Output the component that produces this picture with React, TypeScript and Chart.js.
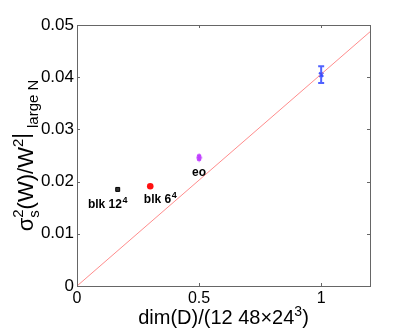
import React, { useEffect, useRef } from "react";
import { Chart, registerables } from "chart.js";

Chart.register(...registerables);

// ---- data ----
const xTicks = [0, 0.5, 1];
const xTickLabels = ["0", "0.5", "1"];
const yTicks = [0, 0.01, 0.02, 0.03, 0.04, 0.05];
const yTickLabels = ["0", "0.01", "0.02", "0.03", "0.04", "0.05"];

const pointX = [0.1667, 0.3, 0.5, 1.0];
const pointY = [0.0185, 0.0191, 0.0246, 0.0405];
const pointErr = [0, 0, 0.0004, 0.0016];
const labelBase = ["blk 12", "blk 6", "eo", ""];
const labelSup = ["4", "4", "", ""];

const fitX = [0, 1.2];
const fitY = [0, 0.0487];

// ---- styles ----
const FONT = "'Liberation Sans', Arial, Helvetica, sans-serif";
const colors = ["#1a1a1a", "#ff1010", "#c040ff", "#3a4cff"];
const labelOffsets = [
  { dx: -10, dy: 19 },
  { dx: 10, dy: 17 },
  { dx: 0, dy: 18 },
  { dx: 0, dy: 0 },
];

function makeDiamond(color: string) {
  const c = document.createElement("canvas");
  c.width = 7;
  c.height = 10;
  const g = c.getContext("2d")!;
  g.fillStyle = color;
  g.beginPath();
  g.moveTo(3.5, 0.5);
  g.lineTo(6.5, 5);
  g.lineTo(3.5, 9.5);
  g.lineTo(0.5, 5);
  g.closePath();
  g.fill();
  return c;
}

const decorPlugin = {
  id: "decor",
  afterDatasetsDraw(chart: any) {
    const ctx = chart.ctx;
    const xs = chart.scales.x;
    const ys = chart.scales.y;
    // error bars
    ctx.save();
    pointX.forEach((x, i) => {
      const e = pointErr[i];
      if (!e) return;
      const px = xs.getPixelForValue(x);
      const top = ys.getPixelForValue(pointY[i] + e);
      const bot = ys.getPixelForValue(pointY[i] - e);
      const cap = i === 3 ? 3 : 2;
      ctx.strokeStyle = i === 3 ? "rgba(50,70,255,0.85)" : colors[i];
      ctx.lineWidth = 2;
      ctx.beginPath();
      ctx.moveTo(px, top);
      ctx.lineTo(px, bot);
      ctx.moveTo(px - cap, top);
      ctx.lineTo(px + cap, top);
      ctx.moveTo(px - cap, bot);
      ctx.lineTo(px + cap, bot);
      ctx.stroke();
    });
    ctx.restore();

    // point labels
    ctx.save();
    ctx.fillStyle = "#000";
    ctx.textBaseline = "alphabetic";
    labelBase.forEach((t, i) => {
      if (!t) return;
      const px = xs.getPixelForValue(pointX[i]);
      const py = ys.getPixelForValue(pointY[i]);
      ctx.font = `bold 12px ${FONT}`;
      const w1 = ctx.measureText(t).width;
      ctx.font = `bold 9px ${FONT}`;
      const w2 = labelSup[i] ? ctx.measureText(labelSup[i]).width + 0.5 : 0;
      const cx = px + labelOffsets[i].dx;
      const by = py + labelOffsets[i].dy;
      const sx = cx - (w1 + w2) / 2;
      ctx.font = `bold 12px ${FONT}`;
      ctx.fillText(t, sx, by);
      if (labelSup[i]) {
        ctx.font = `bold 9px ${FONT}`;
        ctx.fillText(labelSup[i], sx + w1 + 0.5, by - 5);
      }
    });
    ctx.restore();
  },
  afterDraw(chart: any) {
    const ctx = chart.ctx;
    const a = chart.chartArea;
    const xs = chart.scales.x;
    const ys = chart.scales.y;
    ctx.save();
    // frame
    ctx.strokeStyle = "#666";
    ctx.lineWidth = 1;
    ctx.strokeRect(Math.round(a.left) + 0.5, Math.round(a.top) + 0.5, Math.round(a.right - a.left), Math.round(a.bottom - a.top));
    const L = 3;
    ctx.beginPath();
    yTicks.forEach((v) => {
      const y = Math.round(ys.getPixelForValue(v)) + 0.5;
      ctx.moveTo(a.left, y);
      ctx.lineTo(a.left + L, y);
      ctx.moveTo(a.right, y);
      ctx.lineTo(a.right - L, y);
    });
    xTicks.forEach((v) => {
      const x = Math.round(xs.getPixelForValue(v)) + 0.5;
      ctx.moveTo(x, a.bottom);
      ctx.lineTo(x, a.bottom - L);
      ctx.moveTo(x, a.top);
      ctx.lineTo(x, a.top + L);
    });
    ctx.stroke();

    // x title
    ctx.fillStyle = "#000";
    ctx.textBaseline = "alphabetic";
    const big = `20px ${FONT}`;
    const sm = `14px ${FONT}`;
    ctx.font = big;
    const p1 = "dim(D)/(12 48\u00d724";
    const w1 = ctx.measureText(p1).width;
    const w3 = ctx.measureText(")").width;
    ctx.font = sm;
    const w2 = ctx.measureText("3").width;
    const total = w1 + w2 + w3;
    const cx = (a.left + a.right) / 2;
    let x0 = cx - total / 2;
    const by = 324;
    ctx.font = big;
    ctx.fillText(p1, x0, by);
    ctx.font = sm;
    ctx.fillText("3", x0 + w1, by - 8);
    ctx.font = big;
    ctx.fillText(")", x0 + w1 + w2, by);

    // y title (rotated)
    const yb = 33;
    const ycenter = (a.top + a.bottom) / 2;
    ctx.translate(yb, ycenter);
    ctx.rotate(-Math.PI / 2);
    const mainF = `22px ${FONT}`;
    const subF = `15px ${FONT}`;
    ctx.font = mainF;
    const wSig = ctx.measureText("\u03c3").width;
    const wMid = ctx.measureText("(W)/W").width;
    const wBar = ctx.measureText("|").width;
    ctx.font = subF;
    const w2s = Math.max(ctx.measureText("2").width, ctx.measureText("s").width);
    const wLarge = ctx.measureText("large N").width;
    const gap = 5;
    const tot = wSig + w2s + wMid + w2s + wBar + gap + wLarge;
    let lx = -tot / 2;
    ctx.font = mainF;
    ctx.fillText("\u03c3", lx, 0);
    lx += wSig;
    ctx.font = subF;
    ctx.fillText("2", lx, -10);
    ctx.fillText("s", lx, 6);
    lx += w2s;
    ctx.font = mainF;
    ctx.fillText("(W)/W", lx, 0);
    lx += wMid;
    ctx.font = subF;
    ctx.fillText("2", lx, -10);
    lx += w2s;
    ctx.font = mainF;
    ctx.fillText("|", lx, -5);
    lx += wBar + gap;
    ctx.font = subF;
    ctx.fillText("large N", lx, 5);
    ctx.restore();
  },
};

export default function App() {
  const ref = useRef<HTMLCanvasElement>(null);
  useEffect(() => {
    if (!ref.current) return;
    const chart = new Chart(ref.current, {
      type: "scatter",
      data: {
        datasets: [
          {
            type: "line",
            label: "fit",
            data: fitX.map((x, i) => ({ x, y: fitY[i] })),
            borderColor: "#ff8c8c",
            borderWidth: 1,
            pointRadius: 0,
            fill: false,
          } as any,
          {
            label: "blk 12^4",
            data: [{ x: pointX[0], y: pointY[0] }],
            pointStyle: "rect",
            pointRadius: 2.8,
            backgroundColor: "#333",
            borderColor: "#000",
            borderWidth: 1,
          },
          {
            label: "blk 6^4",
            data: [{ x: pointX[1], y: pointY[1] }],
            pointStyle: "circle",
            pointRadius: 3.3,
            backgroundColor: colors[1],
            borderColor: colors[1],
            borderWidth: 0,
          },
          {
            label: "eo",
            data: [{ x: pointX[2], y: pointY[2] }],
            pointStyle: makeDiamond(colors[2]),
            backgroundColor: colors[2],
            borderColor: colors[2],
          },
          {
            label: "full",
            data: [{ x: pointX[3], y: pointY[3] }],
            pointStyle: "crossRot",
            pointRadius: 3,
            backgroundColor: colors[3],
            borderColor: "rgba(50,70,255,0.9)",
            borderWidth: 2,
          },
        ],
      },
      options: {
        animation: false,
        responsive: false,
        devicePixelRatio: 1,
        layout: { padding: { top: 25, right: 39, left: 0, bottom: 0 } },
        plugins: { legend: { display: false }, tooltip: { enabled: false } },
        scales: {
          x: {
            type: "linear",
            min: 0,
            max: 1.2,
            afterBuildTicks: (s: any) => {
              s.ticks = xTicks.map((v) => ({ value: v }));
            },
            afterFit: (s: any) => {
              s.height = 46;
            },
            grid: { display: false, drawTicks: false },
            border: { display: false },
            ticks: {
              padding: 3,
              color: "#000",
              font: { family: FONT, size: 16 },
              maxRotation: 0,
              callback: (v: any) => {
                const i = xTicks.findIndex((t) => Math.abs(t - v) < 1e-9);
                return i >= 0 ? xTickLabels[i] : "";
              },
            },
          },
          y: {
            type: "linear",
            min: 0,
            max: 0.05,
            afterBuildTicks: (s: any) => {
              s.ticks = yTicks.map((v) => ({ value: v }));
            },
            afterFit: (s: any) => {
              s.width = 77;
            },
            grid: { display: false, drawTicks: false },
            border: { display: false },
            ticks: {
              padding: 3,
              color: "#000",
              font: { family: FONT, size: 17 },
              callback: (v: any) => {
                const i = yTicks.findIndex((t) => Math.abs(t - v) < 1e-9);
                return i >= 0 ? yTickLabels[i] : "";
              },
            },
          },
        },
      },
      plugins: [decorPlugin],
    });
    return () => chart.destroy();
  }, []);
  return (
    <div style={{ position: "fixed", left: 0, top: 0, width: 409, height: 332, background: "#fff" }}>
      <canvas ref={ref} width={409} height={332} style={{ width: 409, height: 332 }} />
    </div>
  );
}
